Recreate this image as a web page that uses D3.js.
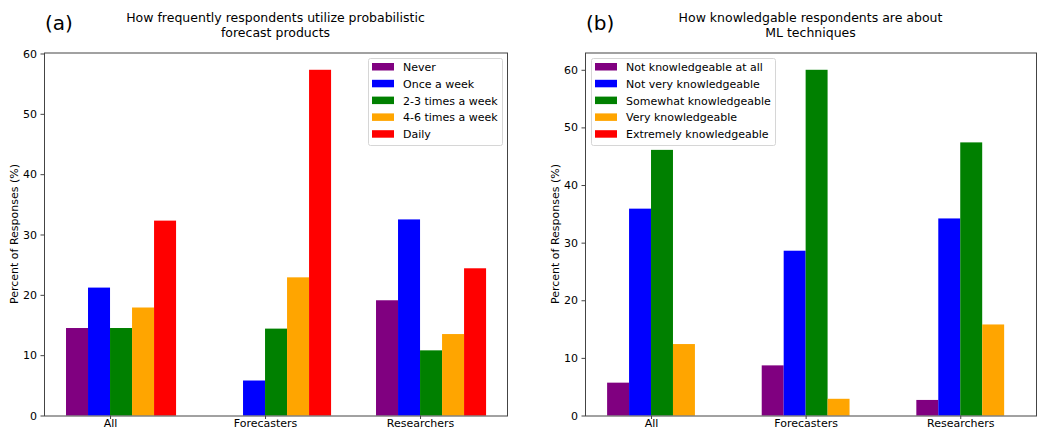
<!DOCTYPE html>
<html lang="en">
<head>
    <meta charset="UTF-8">
    <title>Survey responses</title>
    <script src="https://d3js.org/d3.v7.min.js"></script>
    <style>
        body { margin: 0; background: #ffffff; }
        text { font-family: "DejaVu Sans", sans-serif; fill: #000; }
        .axis path, .axis line { stroke: #444; }
        .axis text { font-size: 11px; }
    </style>
</head>
<body>
<svg id="chart" width="1038" height="430"></svg>
<script>
    // groups on the x axis
    const groups = ["All", "Forecasters", "Researchers"];
    const colors = ["#800080", "#0000ff", "#008000", "#ffa500", "#ff0000"];

    // panel (a): usage frequency, one array per answer
    const freqLabels = ["Never", "Once a week", "2-3 times a week", "4-6 times a week", "Daily"];
    const freqNever = [14.5, 0, 19.1];
    const freqOnce = [21.2, 5.8, 32.5];
    const freqTwoThree = [14.5, 14.4, 10.8];
    const freqFourSix = [17.9, 22.9, 13.5];
    const freqDaily = [32.3, 57.3, 24.4];

    // panel (b): ML knowledge
    const knowLabels = ["Not knowledgeable at all", "Not very knowledgeable", "Somewhat knowledgeable",
        "Very knowledgeable", "Extremely knowledgeable"];
    const knowNone = [5.7, 8.7, 2.7];
    const knowNotVery = [35.9, 28.6, 34.2];
    const knowSomewhat = [46.1, 60.0, 47.4];
    const knowVery = [12.4, 2.9, 15.8];
    const knowExtremely = [0, 0, 0];

    const yTicks = [0, 10, 20, 30, 40, 50, 60];
    const barW = 0.142;

    const svg = d3.select("#chart");

    function panel(opts) {
        const series = opts.series;
        const ymax = d3.max(series.flat()) * 1.05;
        const x = d3.scaleLinear().domain(opts.xdom).range([opts.left, opts.right]);
        const y = d3.scaleLinear().domain([0, ymax]).range([415.5, opts.top]);
        const g = svg.append("g");

        // bars
        series.forEach((vals, k) => {
            g.selectAll(null)
                .data(vals.map((v, i) => ({ v, i })))
                .enter().append("rect")
                .attr("x", d => x(d.i + (k - 2) * barW))
                .attr("width", d => x(d.i + (k - 1) * barW) - x(d.i + (k - 2) * barW))
                .attr("y", d => y(d.v))
                .attr("height", d => y(0) - y(d.v))
                .attr("fill", colors[k]);
        });

        // axes
        g.append("g").attr("class", "axis")
            .attr("transform", `translate(${opts.left},0)`)
            .call(d3.axisLeft(y).tickValues(yTicks).tickSize(3.5).tickPadding(3.5))
            .call(a => a.select(".domain").remove());
        g.append("g").attr("class", "axis")
            .attr("transform", `translate(0,${y(0)})`)
            .call(d3.axisBottom(x).tickValues([0, 1, 2]).tickFormat(i => groups[i]).tickSize(3.5))
            .call(a => a.select(".domain").remove())
            .call(a => a.selectAll("text").attr("dy", null).attr("y", 11.8));

        // frame
        g.append("rect")
            .attr("x", opts.left + 0.5).attr("y", opts.top + 0.5)
            .attr("width", opts.right - opts.left).attr("height", y(0) - opts.top)
            .attr("fill", "none").attr("stroke", "#444").attr("stroke-width", 1);

        // y label
        g.append("text")
            .attr("transform", `translate(${opts.left - 26},${(opts.top + y(0)) / 2}) rotate(-90)`)
            .attr("text-anchor", "middle")
            .style("font-size", "11px")
            .text("Percent of Responses (%)");

        // titles
        const cx = (opts.left + opts.right) / 2;
        g.append("text").attr("x", cx).attr("y", 22).attr("text-anchor", "middle")
            .style("font-size", "12.5px").text(opts.title[0]);
        g.append("text").attr("x", cx).attr("y", 37).attr("text-anchor", "middle")
            .style("font-size", "12.5px").text(opts.title[1]);
        g.append("text").attr("x", opts.left + 1).attr("y", 30)
            .style("font-size", "20px").text(opts.tag);

        // legend
        const lg = g.append("g").attr("transform", `translate(${opts.legX},58)`);
        lg.append("rect")
            .attr("x", 0.5).attr("y", 0.5).attr("width", opts.legW).attr("height", 87)
            .attr("rx", 2).attr("fill", "#fff").attr("fill-opacity", 0.8)
            .attr("stroke", "#d6d6d6");
        opts.labels.forEach((lab, k) => {
            lg.append("rect")
                .attr("x", 4).attr("y", 5 + k * 16.8)
                .attr("width", 22).attr("height", 7.5)
                .attr("fill", colors[k]);
            lg.append("text")
                .attr("x", 35).attr("y", 13 + k * 16.8)
                .style("font-size", "11px").text(lab);
        });
    }

    panel({
        series: [freqNever, freqOnce, freqTwoThree, freqFourSix, freqDaily],
        labels: freqLabels,
        xdom: [-0.426, 2.561], left: 44, right: 507, top: 52.5,
        title: ["How frequently respondents utilize probabilistic", "forecast products"],
        tag: "(a)", legX: 368, legW: 134
    });

    panel({
        series: [knowNone, knowNotVery, knowSomewhat, knowVery, knowExtremely],
        labels: knowLabels,
        xdom: [-0.427, 2.49], left: 585, right: 1036, top: 52.5,
        title: ["How knowledgable respondents are about", "ML techniques"],
        tag: "(b)", legX: 591, legW: 184
    });
</script>
</body>
</html>
